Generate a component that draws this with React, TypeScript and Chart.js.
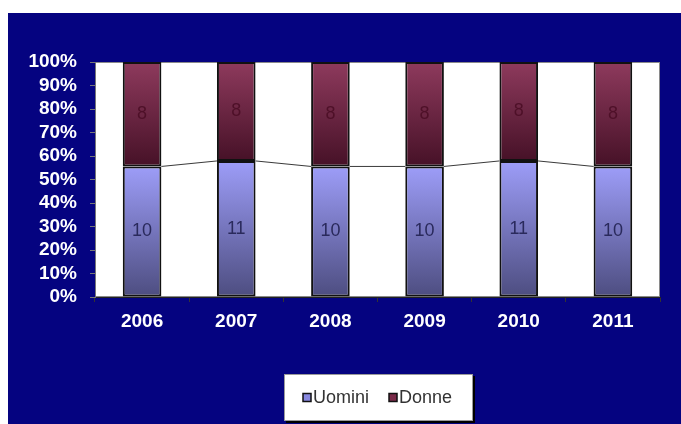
import React, { useEffect, useRef } from "react";
import { Chart, registerables } from "chart.js";

Chart.register(...registerables);

const years = ["2006", "2007", "2008", "2009", "2010", "2011"];
const uomini = [10, 11, 10, 10, 11, 10];
const donne = [8, 8, 8, 8, 8, 8];
const seriesNames = ["Uomini", "Donne"];
const yMax = 100;
const yStep = 10;

const NAVY = "#050380";
const FONT = "Arial, 'Liberation Sans', sans-serif";

const share = (a: number[], b: number[]) => a.map((v, i) => (v / (v + b[i])) * 100);
const uominiPct = share(uomini, donne);
const donnePct = share(donne, uomini);
const uominiTop = uominiPct;
const zeros = years.map(() => 0);
const full = years.map(() => yMax);

const gradFill = (top: string, bottom: string, lower: number[], upper: number[]) => (ctx: any) => {
  const chart = ctx.chart;
  const y = chart.scales && chart.scales.y;
  if (ctx.type !== "data" || !y || !chart.chartArea) return top;
  const i = ctx.dataIndex;
  const y0 = y.getPixelForValue(upper[i]);
  const y1 = y.getPixelForValue(lower[i]);
  if (!isFinite(y0) || !isFinite(y1) || y0 === y1) return top;
  const g = chart.ctx.createLinearGradient(0, y0, 0, y1);
  g.addColorStop(0, top);
  g.addColorStop(1, bottom);
  return g;
};

const seriesStyle = [
  { top: "#9d9df8", bottom: "#4d4d80", legend: "#8888e0", label: "#2a2a5c" },
  { top: "#8e3a5d", bottom: "#461127", legend: "#7a2a48", label: "#4e1028" },
];

const bgPlugin = {
  id: "bgPlugin",
  beforeDraw(chart: any) {
    const { ctx, chartArea: a, width, height } = chart;
    ctx.save();
    ctx.fillStyle = NAVY;
    ctx.fillRect(0, 0, width, height);
    ctx.fillStyle = "#ffffff";
    ctx.fillRect(a.left, a.top, a.right - a.left, a.bottom - a.top);
    ctx.strokeStyle = "#8a8a8a";
    ctx.lineWidth = 1;
    ctx.strokeRect(a.left + 0.5, a.top + 0.5, a.right - a.left - 1, a.bottom - a.top - 1);
    ctx.restore();
  },
};

const overlayPlugin = {
  id: "overlayPlugin",
  afterDatasetsDraw(chart: any) {
    const { ctx } = chart;
    ctx.save();
    const m0 = chart.getDatasetMeta(0);
    ctx.strokeStyle = "#3a3a3a";
    ctx.lineWidth = 1;
    for (let i = 0; i < m0.data.length - 1; i++) {
      const a = m0.data[i];
      const b = m0.data[i + 1];
      ctx.beginPath();
      ctx.moveTo(a.x + a.width / 2, a.y);
      ctx.lineTo(b.x - b.width / 2, b.y);
      ctx.stroke();
    }
    ctx.font = "18px " + FONT;
    ctx.textAlign = "center";
    ctx.textBaseline = "middle";
    chart.data.datasets.forEach((ds: any, di: number) => {
      const meta = chart.getDatasetMeta(di);
      ctx.fillStyle = seriesStyle[di].label;
      meta.data.forEach((el: any, i: number) => {
        ctx.fillText(String(ds.counts[i]), el.x, (el.y + el.base) / 2);
      });
    });
    ctx.restore();
  },
  afterDraw(chart: any) {
    const { ctx } = chart;
    const bx = 276, by = 361, bw = 189, bh = 47;
    ctx.save();
    ctx.fillStyle = "#000000";
    ctx.fillRect(bx + 2, by + 2, bw, bh);
    ctx.fillStyle = "#ffffff";
    ctx.fillRect(bx, by, bw, bh);
    ctx.strokeStyle = "#9a9a9a";
    ctx.lineWidth = 1;
    ctx.strokeRect(bx + 0.5, by + 0.5, bw - 1, bh - 1);
    ctx.font = "18px " + FONT;
    ctx.textAlign = "left";
    ctx.textBaseline = "middle";
    const cy = by + bh / 2;
    let x = bx + 19;
    chart.data.datasets.forEach((ds: any, di: number) => {
      ctx.fillStyle = seriesStyle[di].legend;
      ctx.fillRect(x, cy - 4, 8, 8);
      ctx.strokeStyle = "#111111";
      ctx.lineWidth = 1.5;
      ctx.strokeRect(x, cy - 4, 8, 8);
      ctx.fillStyle = "#333333";
      ctx.fillText(ds.label, x + 10, cy + 1);
      x += 10 + ctx.measureText(ds.label).width + 20;
    });
    ctx.restore();
  },
};

export default function App() {
  const ref = useRef<HTMLCanvasElement | null>(null);
  useEffect(() => {
    if (!ref.current) return;
    const chart = new Chart(ref.current, {
      type: "bar",
      data: {
        labels: years,
        datasets: [
          {
            label: seriesNames[0],
            data: uominiPct,
            counts: uomini,
            backgroundColor: gradFill(seriesStyle[0].top, seriesStyle[0].bottom, zeros, uominiTop),
            borderColor: "#111111",
            borderWidth: 2,
            borderSkipped: false,
            barPercentage: 0.41,
            categoryPercentage: 1,
          } as any,
          {
            label: seriesNames[1],
            data: donnePct,
            counts: donne,
            backgroundColor: gradFill(seriesStyle[1].top, seriesStyle[1].bottom, uominiTop, full),
            borderColor: "#111111",
            borderWidth: 2,
            borderSkipped: false,
            barPercentage: 0.41,
            categoryPercentage: 1,
          } as any,
        ],
      },
      options: {
        responsive: false,
        animation: false,
        layout: { padding: { left: 0, top: 49, right: 21, bottom: 87 } },
        plugins: { legend: { display: false }, tooltip: { enabled: false } },
        scales: {
          x: {
            stacked: true,
            offset: true,
            grid: { display: true, drawOnChartArea: false, offset: true, tickLength: 5, color: "#333333" },
            border: { display: true, color: "#222222", width: 1 },
            ticks: { color: "#ffffff", font: { family: FONT, size: 19, weight: "bold" }, padding: 8 },
            afterFit: (s: any) => { s.height = 40; },
          },
          y: {
            stacked: true,
            min: 0,
            max: yMax,
            grid: { display: true, drawOnChartArea: false, tickLength: 5, color: "#777777" },
            border: { display: true, color: "#777777", width: 1 },
            ticks: {
              stepSize: yStep,
              autoSkip: false,
              color: "#ffffff",
              font: { family: FONT, size: 19, weight: "bold", lineHeight: 1 },
              padding: 13,
              callback: (v: any) => v + "%",
            },
            afterFit: (s: any) => { s.width = 87; },
          },
        },
      },
      plugins: [bgPlugin, overlayPlugin],
    } as any);
    return () => chart.destroy();
  }, []);
  return (
    <div style={{ position: "absolute", left: 8, top: 13, width: 673, height: 411, background: NAVY }}>
      <canvas ref={ref} width={673} height={411} style={{ display: "block" }} />
    </div>
  );
}
